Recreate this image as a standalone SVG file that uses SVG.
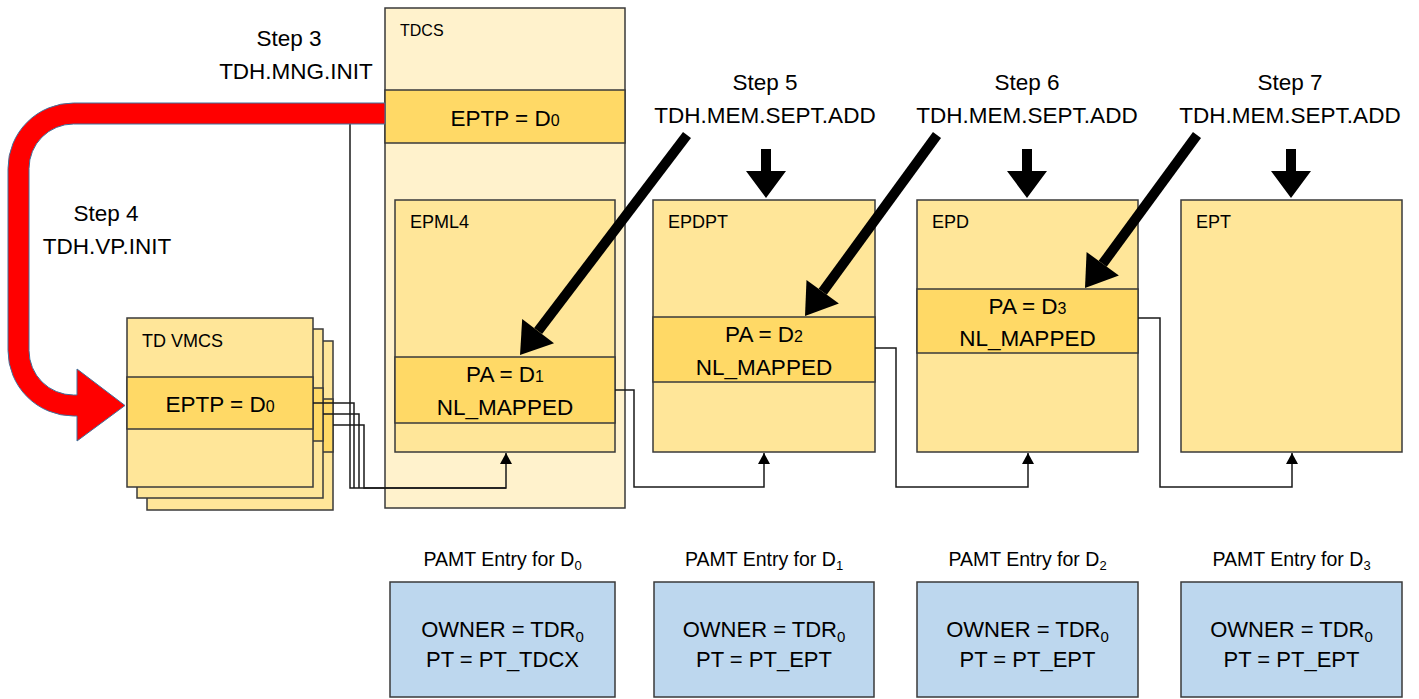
<svg xmlns="http://www.w3.org/2000/svg" width="1419" height="699" viewBox="0 0 1419 699">
<style>
text{font-family:"Liberation Sans",Arial,sans-serif;fill:#000}
.lbl{font-size:16px}
.hdr{font-size:18px}
.big{font-size:22.5px;text-anchor:middle}
.step{font-size:22.5px;text-anchor:middle}
.pamtl{font-size:19.5px;text-anchor:middle}
.own{font-size:22px;text-anchor:middle}
.tdcs{fill:#FFF2CC;stroke:#3A3A3A;stroke-width:1.5}
.box{fill:#FFE699;stroke:#3A3A3A;stroke-width:1.5}
.row{fill:#FFD966;stroke:#3A3A3A;stroke-width:1.5}
.pamt{fill:#BDD7EE;stroke:#3A3A3A;stroke-width:1.5}
.conn{fill:none;stroke:#1A1A1A;stroke-width:1.5}
.blk{fill:#000}
</style>
<defs>
<marker id="ah" markerUnits="userSpaceOnUse" viewBox="0 0 11 12" markerWidth="11" markerHeight="12" refX="11" refY="6" orient="auto">
<path d="M0,0 L11,6 L0,12 z" fill="#000"/>
</marker>
</defs>

<g id="tdcs">
<rect class="tdcs" x="385" y="8" width="240" height="500"/>
<text class="lbl" x="400" y="36">TDCS</text>
<rect class="row" x="385" y="90" width="240" height="53"/>
<text class="big" x="505" y="126">EPTP = D<tspan font-size="16">0</tspan></text>
</g>

<g id="epml4">
<rect class="box" x="395" y="200" width="220" height="252"/>
<text class="hdr" x="410" y="228">EPML4</text>
<rect class="row" x="395" y="357" width="220" height="66"/>
<text class="big" x="505" y="382">PA = D<tspan font-size="16">1</tspan></text>
<text class="big" x="505" y="415">NL_MAPPED</text>
</g>

<g id="epdpt">
<rect class="box" x="653" y="200" width="222" height="252"/>
<text class="hdr" x="668" y="228">EPDPT</text>
<rect class="row" x="653" y="317" width="222" height="65"/>
<text class="big" x="764" y="342">PA = D<tspan font-size="16">2</tspan></text>
<text class="big" x="764" y="375">NL_MAPPED</text>
</g>

<g id="epd">
<rect class="box" x="917" y="200" width="221" height="252"/>
<text class="hdr" x="932" y="228">EPD</text>
<rect class="row" x="917" y="289" width="221" height="64"/>
<text class="big" x="1027.5" y="314">PA = D<tspan font-size="16">3</tspan></text>
<text class="big" x="1027.5" y="346">NL_MAPPED</text>
</g>

<g id="ept">
<rect class="box" x="1181" y="200" width="221" height="252"/>
<text class="hdr" x="1196" y="228">EPT</text>
</g>

<g id="tdvmcs">
<rect class="box" x="147" y="341" width="186" height="169"/>
<rect class="row" x="147" y="399" width="186" height="53"/>
<rect class="box" x="137" y="329" width="186" height="169"/>
<rect class="row" x="137" y="388" width="186" height="53"/>
<rect class="box" x="127" y="318" width="186" height="169"/>
<rect class="row" x="127" y="377" width="186" height="52"/>
<text class="hdr" x="142" y="347">TD VMCS</text>
<text class="big" x="220" y="412">EPTP = D<tspan font-size="16">0</tspan></text>
</g>

<g id="connectors">
<path class="conn" d="M385,113 H350 V488 H506" />
<path class="conn" d="M313,403 H354 V488" />
<path class="conn" d="M323,414 H359 V488" />
<path class="conn" d="M333,425 H364 V488 H506 V453" marker-end="url(#ah)"/>
<path class="conn" d="M615,390 H634 V487 H764 V453" marker-end="url(#ah)"/>
<path class="conn" d="M875,348 H896 V487 H1028 V453" marker-end="url(#ah)"/>
<path class="conn" d="M1138,318 H1160 V487 H1292 V453" marker-end="url(#ah)"/>
<path id="red-arrow" d="M385,103 L73.5,103 A65.5,65.5 0 0 0 8,168.5 L8,350.5 A65.5,65.5 0 0 0 73.5,416 L77,416 L77,441 L125,405.5 L77,369 L77,395 L73.5,395 A44.5,44.5 0 0 1 29,350.5 L29,168.5 A44.5,44.5 0 0 1 73.5,124 L385,124 Z" fill="#FF0000" stroke="#41719C" stroke-width="1"/>
<g id="step5-arrow" class="blk">
<line x1="687" y1="135" x2="538.1" y2="331.1" stroke="#000" stroke-width="10"/>
<polygon points="554,343.2 520,355 522.2,319"/>
</g>
<g id="step6-arrow" class="blk">
<line x1="937" y1="135" x2="822.7" y2="291.8" stroke="#000" stroke-width="10"/>
<polygon points="838.9,303.6 805,316 806.5,280"/>
</g>
<g id="step7-arrow" class="blk">
<line x1="1197" y1="135" x2="1102.7" y2="263.8" stroke="#000" stroke-width="10"/>
<polygon points="1118.9,275.6 1085,288 1086.6,252"/>
</g>
<polygon class="blk" points="761,149 771,149 771,171 786,171 766,198 746,171 761,171"/>
<polygon class="blk" points="1022,149 1032,149 1032,171 1047,171 1027,198 1007,171 1022,171"/>
<polygon class="blk" points="1286,149 1296,149 1296,171 1311,171 1291,198 1271,171 1286,171"/>
</g>

<g id="steps">
<text class="step" x="289" y="46">Step 3</text>
<text class="step" x="296" y="79">TDH.MNG.INIT</text>
<text class="step" x="106" y="221">Step 4</text>
<text class="step" x="107" y="254">TDH.VP.INIT</text>
<text class="step" x="765" y="90">Step 5</text>
<text class="step" x="765" y="123">TDH.MEM.SEPT.ADD</text>
<text class="step" x="1027" y="90">Step 6</text>
<text class="step" x="1027" y="123">TDH.MEM.SEPT.ADD</text>
<text class="step" x="1290" y="90">Step 7</text>
<text class="step" x="1290" y="123">TDH.MEM.SEPT.ADD</text>
</g>

<g id="pamt0">
<text class="pamtl" x="502.5" y="566">PAMT Entry for D<tspan font-size="13" dy="4">0</tspan></text>
<rect class="pamt" x="390" y="582" width="225" height="115"/>
<text class="own" x="502.5" y="637">OWNER = TDR<tspan font-size="15" dy="5">0</tspan></text>
<text class="own" x="502.5" y="667">PT = PT_TDCX</text>
</g>
<g id="pamt1">
<text class="pamtl" x="764" y="566">PAMT Entry for D<tspan font-size="13" dy="4">1</tspan></text>
<rect class="pamt" x="654" y="582" width="220" height="115"/>
<text class="own" x="764" y="637">OWNER = TDR<tspan font-size="15" dy="5">0</tspan></text>
<text class="own" x="764" y="667">PT = PT_EPT</text>
</g>
<g id="pamt2">
<text class="pamtl" x="1027.5" y="566">PAMT Entry for D<tspan font-size="13" dy="4">2</tspan></text>
<rect class="pamt" x="917" y="582" width="221" height="115"/>
<text class="own" x="1027.5" y="637">OWNER = TDR<tspan font-size="15" dy="5">0</tspan></text>
<text class="own" x="1027.5" y="667">PT = PT_EPT</text>
</g>
<g id="pamt3">
<text class="pamtl" x="1291.5" y="566">PAMT Entry for D<tspan font-size="13" dy="4">3</tspan></text>
<rect class="pamt" x="1181" y="582" width="221" height="115"/>
<text class="own" x="1291.5" y="637">OWNER = TDR<tspan font-size="15" dy="5">0</tspan></text>
<text class="own" x="1291.5" y="667">PT = PT_EPT</text>
</g>
</svg>
